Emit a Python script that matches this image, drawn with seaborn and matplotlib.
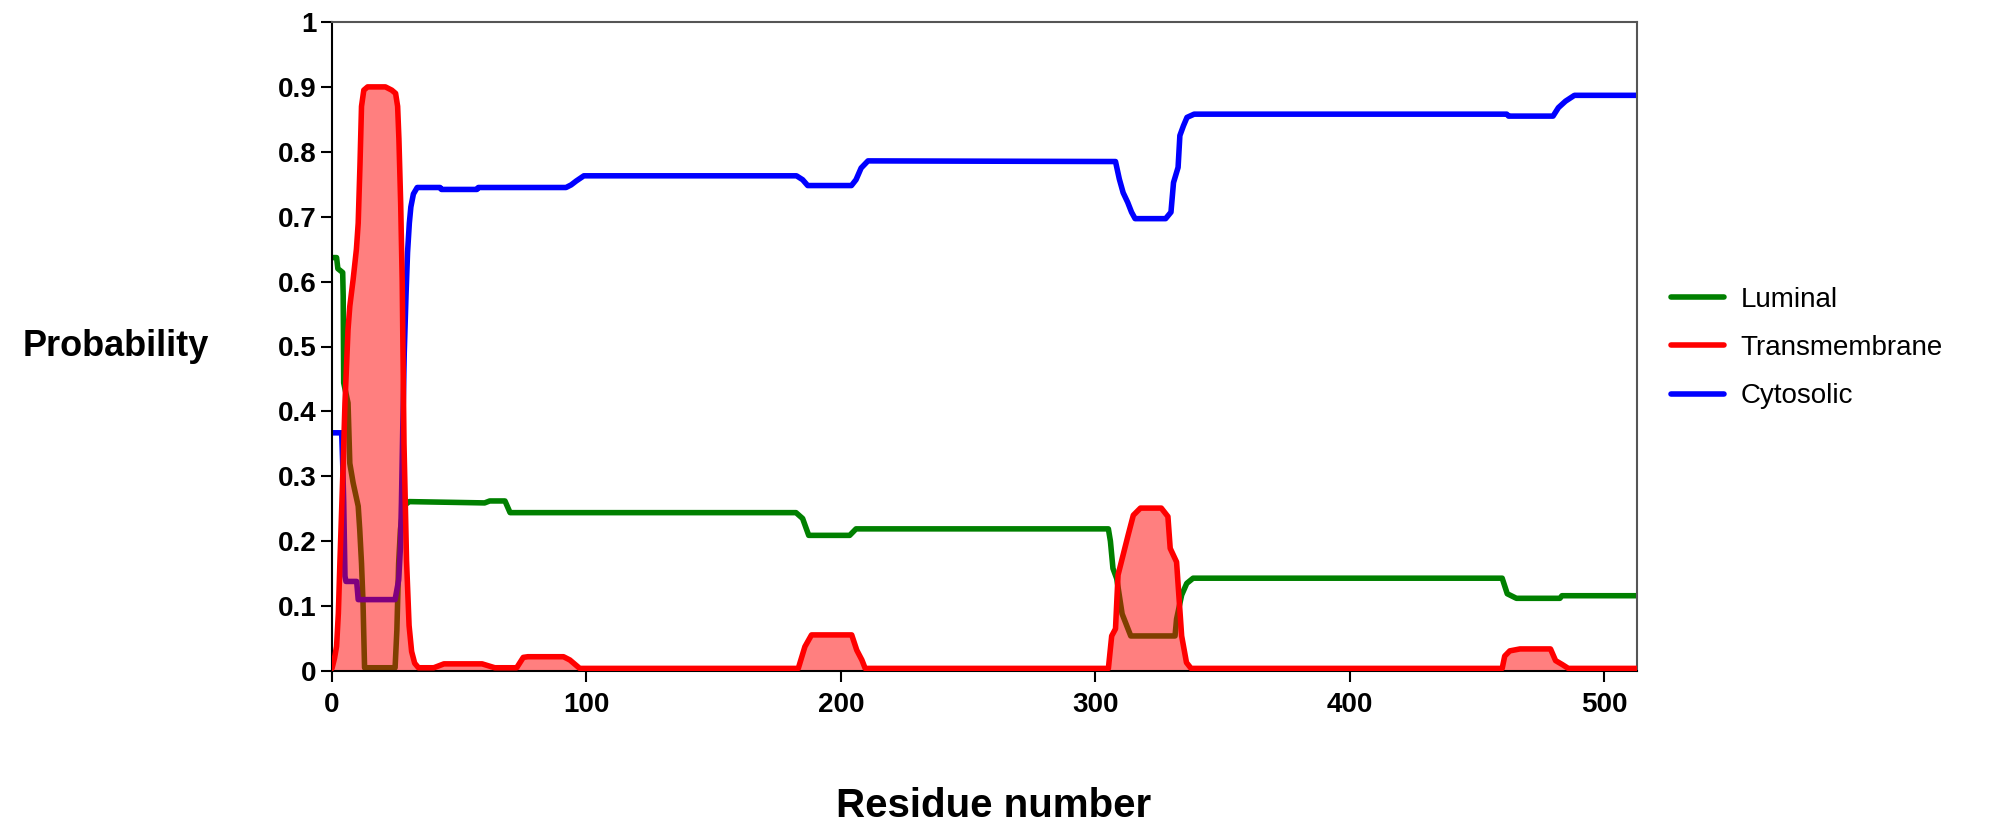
import matplotlib
matplotlib.use('Agg')
import matplotlib.pyplot as plt
import pandas as pd
import seaborn as sns

# Breakpoints (residue, probability)
lum_x = [0, 1.8, 2.3, 4.2, 4.4, 4.6, 6.3, 7, 8.3, 10.3, 10.9, 11.6, 12.2, 12.8, 24.8,
         25.5, 26.2, 26.9, 28, 30.4, 60, 62, 68, 70, 182.4, 185, 187.4, 203.5, 206,
         305.2, 306, 307, 308.5, 310.6, 314, 331.4, 332, 334, 336, 338.5, 460, 462,
         465.6, 482.7, 483.5, 513]
lum_y = [0.637, 0.637, 0.62, 0.614, 0.578, 0.444, 0.413, 0.32, 0.29, 0.254, 0.218, 0.166,
         0.104, 0.005, 0.005, 0.063, 0.166, 0.218, 0.254, 0.261, 0.259, 0.262, 0.262,
         0.244, 0.244, 0.235, 0.209, 0.209, 0.219, 0.219, 0.2, 0.158, 0.142, 0.088,
         0.054, 0.054, 0.08, 0.117, 0.135, 0.143, 0.143, 0.119, 0.112, 0.112, 0.116, 0.116]

tm_x = [0, 1, 1.8, 2.5, 3.1, 4.4, 5.1, 6.3, 7, 8.3, 9.6, 10.3, 11, 11.6, 12.5, 14, 21,
        22.5, 23.5, 25, 25.8, 26.3, 27, 27.6, 28.3, 29.3, 30.3, 31.3, 32.5, 34, 40, 44,
        59, 64, 72.6, 75.2, 77, 91, 93.5, 97.4, 183.3, 185.9, 188.5, 204.3, 206.3,
        208.3, 209.6, 305.2, 306.5, 308, 309, 311, 313, 315, 317.8, 326, 328.6, 329.5,
        332, 334, 335.9, 337.7, 460, 461, 463, 467, 479, 481, 483.6, 486, 513]
tm_y = [0.004, 0.02, 0.038, 0.089, 0.166, 0.32, 0.413, 0.526, 0.562, 0.603, 0.65, 0.69,
        0.78, 0.87, 0.895, 0.9, 0.9, 0.897, 0.895, 0.89, 0.87, 0.82, 0.72, 0.6, 0.35,
        0.17, 0.07, 0.03, 0.012, 0.005, 0.005, 0.011, 0.011, 0.005, 0.005, 0.021, 0.022,
        0.022, 0.017, 0.004, 0.004, 0.0375, 0.0556, 0.0556, 0.032, 0.017, 0.004, 0.004,
        0.054, 0.065, 0.148, 0.179, 0.21, 0.24, 0.251, 0.251, 0.238, 0.189, 0.168,
        0.054, 0.013, 0.004, 0.004, 0.023, 0.031, 0.034, 0.034, 0.016, 0.010, 0.004, 0.004]

cyt_x = [0, 3.8, 4.2, 4.6, 5.1, 5.5, 9.7, 10.3, 24.8, 26.2, 26.9, 27.3, 27.8, 28.4,
         29.1, 29.7, 30.4, 31, 32, 33.5, 42.5, 43, 57, 57.5, 92, 94, 96, 99, 182.6,
         185, 187, 204.2, 206, 208, 210.7, 308, 309.5, 311, 312.8, 314.3, 315.7, 327.7,
         329.8, 330.8, 332.6, 333.3, 334.7, 336.1, 338.9, 461.8, 462.5, 480, 482.1,
         484.9, 488.4, 513]
cyt_y = [0.367, 0.367, 0.321, 0.26, 0.146, 0.138, 0.138, 0.11, 0.11, 0.14, 0.19, 0.26,
         0.37, 0.49, 0.58, 0.645, 0.69, 0.715, 0.735, 0.745, 0.745, 0.742, 0.742, 0.745,
         0.745, 0.749, 0.755, 0.763, 0.763, 0.757, 0.748, 0.748, 0.757, 0.775, 0.786,
         0.785, 0.758, 0.737, 0.722, 0.707, 0.697, 0.697, 0.707, 0.7525, 0.776, 0.825,
         0.84, 0.853, 0.858, 0.858, 0.855, 0.855, 0.868, 0.878, 0.887, 0.887]

series = ['Luminal', 'Transmembrane', 'Cytosolic']
colors = ['#008000', '#ff0000', '#0000ff']

df = pd.concat([
    pd.DataFrame({'residue': lum_x, 'prob': lum_y, 'series': 'Luminal'}),
    pd.DataFrame({'residue': tm_x, 'prob': tm_y, 'series': 'Transmembrane'}),
    pd.DataFrame({'residue': cyt_x, 'prob': cyt_y, 'series': 'Cytosolic'}),
], ignore_index=True)

sns.set_style('white')
plt.rcParams['font.family'] = ['Liberation Sans', 'DejaVu Sans']
plt.rcParams.update({'text.color': 'black', 'axes.labelcolor': 'black',
                     'xtick.color': 'black', 'ytick.color': 'black'})

fig = plt.figure(figsize=(20.04, 8.25), dpi=100)
ax = fig.add_axes([332 / 2004, 1 - 671 / 825, 1305 / 2004, 649 / 825])

sns.lineplot(data=df, x='residue', y='prob', hue='series', hue_order=series,
             palette=colors, estimator=None, sort=False, linewidth=4, ax=ax)

# shaded transmembrane area, drawn over green/blue but under the red line
ax.fill_between(tm_x, tm_y, color='#ff0000', alpha=0.5, linewidth=0, zorder=2.5)
for line in ax.lines:
    if line.get_color() in ('#ff0000', (1.0, 0.0, 0.0, 1)):
        line.set_zorder(3)

ax.set_xlim(0, 513)
ax.set_ylim(0, 1)
ax.set_xticks(range(0, 501, 100))
ax.set_yticks([i / 10 for i in range(11)])
ax.set_yticklabels(['0'] + ['0.%d' % i for i in range(1, 10)] + ['1'])

ax.tick_params(axis='both', direction='out', length=8, width=1.5, color='black',
               labelsize=20, labelcolor='black', bottom=True, left=True)
ax.tick_params(axis='y', pad=3)
ax.tick_params(axis='x', pad=7)
for lab in ax.get_xticklabels() + ax.get_yticklabels():
    lab.set_fontweight('bold')

for side in ['left', 'bottom']:
    ax.spines[side].set_color('black')
    ax.spines[side].set_linewidth(1.5)
for side in ['top', 'right']:
    ax.spines[side].set_color('#555555')
    ax.spines[side].set_linewidth(1.5)

ax.set_xlabel('Residue number', fontsize=29, fontweight='bold', va='center',
              color='black')
ax.xaxis.set_label_coords(0.507, -0.208)
ax.set_ylabel('Probability', fontsize=26, fontweight='bold', rotation=0,
              ha='center', va='center', color='black')
ax.yaxis.set_label_coords(-0.166, 0.5)

leg = ax.legend(loc='center left', bbox_to_anchor=(1671 / 2004, 1 - 348 / 825),
                bbox_transform=fig.transFigure, frameon=False, fontsize=20,
                handlelength=1.9, handletextpad=0.6, labelspacing=0.8,
                borderpad=0, borderaxespad=0, title=None)
for t in leg.get_texts():
    t.set_color('black')

fig.savefig('out.png', dpi=100)
